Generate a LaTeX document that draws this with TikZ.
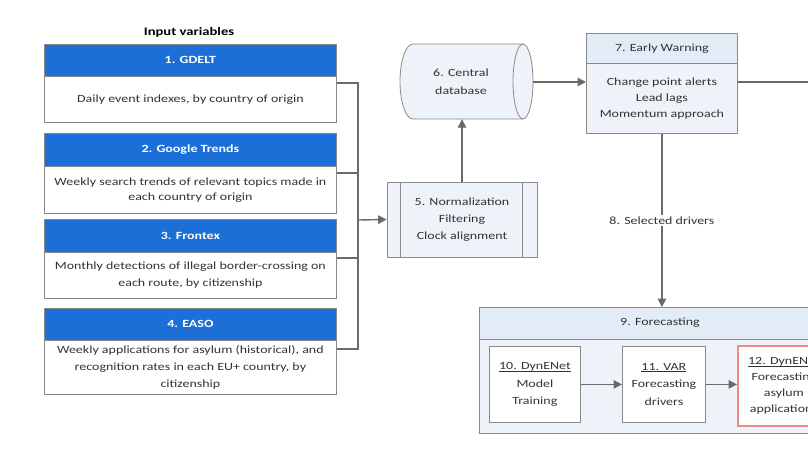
\documentclass[tikz,border=0pt]{standalone}
\usepackage{fontspec}
\setmainfont{Carlito}[FakeStretch=1.27]
\usetikzlibrary{arrows.meta,calc}
\newlength\myulw
\newcommand\myul[1]{\settowidth\myulw{#1}\rlap{\rule[-1.6pt]{\myulw}{0.6pt}}#1}
\definecolor{hblue}{HTML}{1C6FD6}
\definecolor{lfill}{HTML}{EEF3FA}
\definecolor{hfill}{HTML}{E2EBF6}
\definecolor{bgray}{HTML}{8A8A8A}
\definecolor{agray}{HTML}{6A6A6A}
\definecolor{pinkred}{HTML}{EE8A8A}
\definecolor{txt}{HTML}{333333}
\tikzset{
  hdr/.style={draw=bgray, fill=hblue, text=white, font=\bfseries\fontsize{11}{12}\selectfont, anchor=north west, inner sep=0pt, line width=0.8pt},
  bodyw/.style={draw=bgray, fill=white, text=txt, font=\fontsize{11}{17}\selectfont, anchor=north west, inner sep=0pt, align=center, line width=0.8pt},
  lbox/.style={draw=bgray, fill=lfill, text=txt, font=\fontsize{11}{17}\selectfont, inner sep=0pt, align=center, line width=0.8pt},
  wbox/.style={draw=bgray, fill=white, text=txt, font=\fontsize{11}{17.5}\selectfont, inner sep=0pt, align=center, line width=0.8pt},
  conn/.style={draw=agray, line width=1.4pt},
  arr/.style={conn, -{Triangle[length=8.5pt,width=8.5pt]}},
  bus/.style={draw=agray, line width=1.2pt},
}
\begin{document}
\begin{tikzpicture}[x=1pt,y=-1pt]
\clip (0,0) rectangle (808,455);
\fill[white] (0,0) rectangle (808,455);

% title
\node[font=\bfseries\fontsize{11.5}{13}\selectfont, text=black] (title) at (189,32) {Input variables};

% input boxes
\node[hdr, minimum width=292pt, minimum height=32pt] (h1) at (44,44) {1. GDELT};
\node[bodyw, minimum width=292pt, minimum height=46pt] (b1) at (44,76) {Daily event indexes, by country of origin};
\node[hdr, minimum width=292pt, minimum height=33pt] (h2) at (44,133) {2. Google Trends};
\node[bodyw, minimum width=292pt, minimum height=47pt, font=\fontsize{11}{14.5}\selectfont] (b2) at (44,166) {Weekly search trends of relevant topics made in\\each country of origin};
\node[hdr, minimum width=292pt, minimum height=33pt] (h3) at (44,219) {3. Frontex};
\node[bodyw, minimum width=292pt, minimum height=46pt] (b3) at (44,252) {Monthly detections of illegal border-crossing on\\each route, by citizenship};
\node[hdr, minimum width=292pt, minimum height=32pt] (h4) at (44,308) {4. EASO};
\node[bodyw, minimum width=292pt, minimum height=54pt] (b4) at (44,340) {Weekly applications for asylum (historical), and\\recognition rates in each EU+ country, by\\citizenship};

% bus
\coordinate (j1) at (358,83);
\coordinate (j2) at (358,173);
\coordinate (j3) at (358,258);
\coordinate (j4) at (358,349);
\coordinate (jm) at (358,220);
\draw[bus] (b1.east |- j1) -- (j1) -- (j4) -- (b4.east |- j4);
\draw[bus] (b2.east |- j2) -- (j2);
\draw[bus] (b3.east |- j3) -- (j3);

% box 5
\node[lbox, minimum width=150pt, minimum height=75pt] (n5) at (462,219.5) {5. Normalization\\Filtering\\Clock alignment};
\draw[draw=bgray, line width=0.8pt] ([xshift=14pt]n5.north west) -- ([xshift=14pt]n5.south west);
\draw[draw=bgray, line width=0.8pt] ([xshift=-15pt]n5.north east) -- ([xshift=-15pt]n5.south east);
\draw[arr] (jm) -- (n5.west);

% cylinder 6
\draw[draw=bgray, fill=lfill, line width=0.8pt]
  (413,44) -- (523,44)
  .. controls (528.5,44) and (533,60.8) .. (533,81.5)
  .. controls (533,102.2) and (528.5,119) .. (523,119)
  -- (413,119)
  .. controls (405.8,119) and (400,102.2) .. (400,81.5)
  .. controls (400,60.8) and (405.8,44) .. (413,44) -- cycle;
\draw[draw=bgray, line width=0.8pt]
  (523,44) .. controls (517.5,44) and (513,60.8) .. (513,81.5)
  .. controls (513,102.2) and (517.5,119) .. (523,119);
\node[font=\fontsize{11}{18}\selectfont, text=txt, align=center, minimum width=142pt, minimum height=75pt, inner sep=0pt] (n6) at (461,81.5) {6. Central\\database};
\draw[arr] (n5.north) -- (n6.south -| n5.north);

% box 7
\node[draw=bgray, fill=hfill, text=txt, line width=0.8pt, minimum width=151pt, minimum height=30pt, inner sep=0pt, anchor=north west, font=\fontsize{11}{13}\selectfont] (h7) at (586,33) {7. Early Warning};
\node[lbox, minimum width=151pt, minimum height=70pt, anchor=north west, font=\fontsize{11}{16}\selectfont] (n7) at (586,63) {Change point alerts\\Lead lags\\Momentum approach};
\draw[arr] (533,82) -- (n7.west |- 0,82);
\coordinate (rout) at (815,82);
\draw[conn] (n7.east |- rout) -- (rout);

% box 9
\node[draw=bgray, fill=lfill, line width=0.8pt, minimum width=362pt, minimum height=126pt, inner sep=0pt, anchor=north west] (n9) at (479,307) {};
\draw[draw=bgray, fill=hfill, line width=0.8pt] (n9.north west) rectangle ($(n9.north east)+(0,32)$);
\node[font=\fontsize{11}{13}\selectfont, text=txt] (t9) at (660,323) {9. Forecasting};

\draw[arr] (n7.south) -- node[fill=white, text=txt, font=\fontsize{11}{13}\selectfont, inner sep=2pt] (l8) {8. Selected drivers} (n7.south |- n9.north);

% boxes 10-12
\node[wbox, minimum width=91pt, minimum height=76pt, anchor=north west] (n10) at (489,346) {\myul{10. DynENet}\\Model\\Training};
\node[wbox, minimum width=83pt, minimum height=76pt, anchor=north west] (n11) at (622,346) {\myul{11. VAR}\\Forecasting\\drivers};
\node[draw=pinkred, fill=white, text=txt, line width=1.8pt, font=\fontsize{11}{16}\selectfont, inner sep=0pt, align=center, minimum width=92pt, minimum height=80pt, anchor=north west] (n12) at (737,345) {\myul{12. DynENet}\\Forecasting\\asylum\\applications};
\draw[arr] (n10.east) -- (n10.east -| n11.west);
\draw[arr] (n11.east) -- (n11.east -| n12.west);
\end{tikzpicture}
\end{document}
